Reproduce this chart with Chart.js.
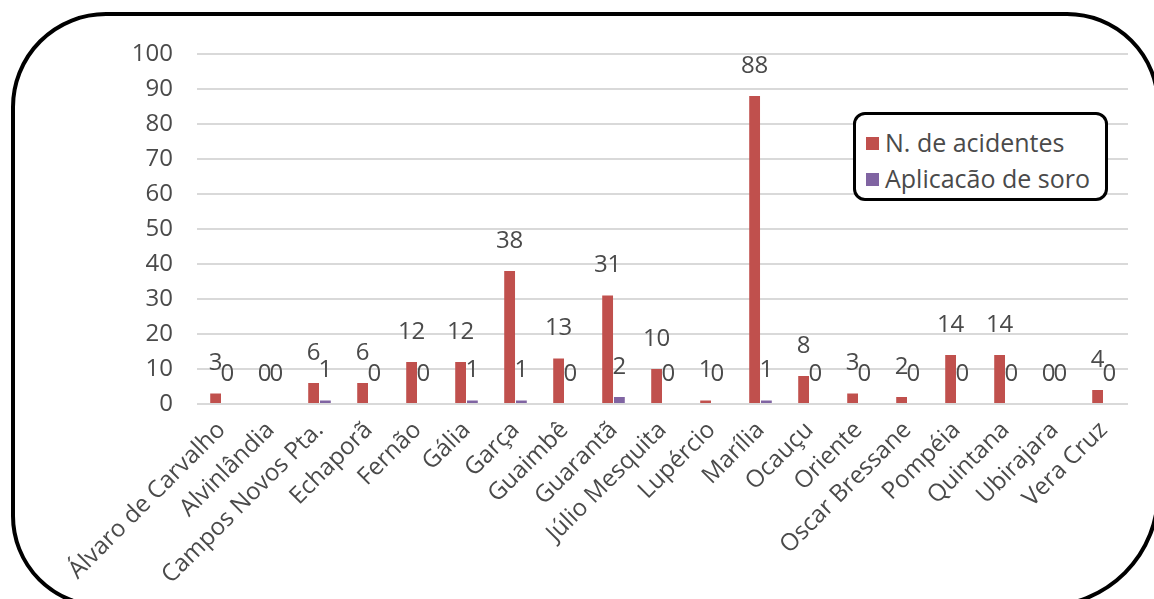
<!DOCTYPE html>
<html><head><meta charset="utf-8">
<script src="https://cdn.jsdelivr.net/npm/chart.js@4"></script>
<style>
html,body{margin:0;padding:0;background:#fff;width:1154px;height:599px;overflow:hidden;font-family:"Open Sans",sans-serif;}
#wrap{position:relative;width:1154px;height:599px;overflow:hidden;}
#frame{position:absolute;left:11px;top:12px;width:1141px;height:588px;border:4px solid #000;border-radius:95px 93px 115px 92px;}
#c{position:absolute;left:0;top:0;}
#legend{position:absolute;left:853px;top:112px;width:249px;height:83px;border:3px solid #000;border-radius:12px;background:#fff;font-size:25px;color:#4a4a4a;overflow:hidden;}
#legend div{position:absolute;left:10px;white-space:nowrap;line-height:30px;}
#legend span.sw{display:inline-block;width:13px;height:13px;margin-right:6px;vertical-align:middle;position:relative;top:-2px;}
</style></head>
<body><div id="wrap"><div id="frame"></div><canvas id="c" width="1154" height="599"></canvas><div id="legend"></div></div>
<script>
const categories = ["Álvaro de Carvalho","Alvinlândia","Campos Novos Pta.","Echaporã","Fernão","Gália","Garça","Guaimbê","Guarantã","Júlio Mesquita","Lupércio","Marília","Ocauçu","Oriente","Oscar Bressane","Pompéia","Quintana","Ubirajara","Vera Cruz"];
const acidentes = [3,0,6,6,12,12,38,13,31,10,1,88,8,3,2,14,14,0,4];
const soro = [0,0,1,0,0,1,1,0,2,0,0,1,0,0,0,0,0,0,0];
const seriesNames = ["N. de acidentes","Aplicacão de soro"];
const seriesColors = ["#C0504D","#8064A2"];
const yTicks = [0,10,20,30,40,50,60,70,80,90,100];

const labelPlugin = {
  id:'vals',
  afterDatasetsDraw(chart){
    const ctx = chart.ctx;
    ctx.save();
    ctx.font = '24px "Open Sans"';
    ctx.fillStyle = '#4a4a4a';
    ctx.textAlign = 'center';
    ctx.textBaseline = 'middle';
    chart.data.datasets.forEach((ds,i)=>{
      chart.getDatasetMeta(i).data.forEach((bar,j)=>{
        ctx.fillText(String(ds.data[j]), bar.x, bar.y - 30);
      });
    });
    ctx.restore();
  }
};

new Chart(document.getElementById('c'),{
  type:'bar',
  data:{labels:categories,datasets:[
    {label:seriesNames[0],data:acidentes,backgroundColor:seriesColors[0]},
    {label:seriesNames[1],data:soro,backgroundColor:seriesColors[1]}
  ]},
  options:{
    responsive:false,animation:false,
    layout:{padding:{left:0,top:54,right:26,bottom:0}},
    plugins:{legend:{display:false},tooltip:{enabled:false}},
    datasets:{bar:{categoryPercentage:0.48,barPercentage:0.92}},
    scales:{
      x:{grid:{display:false},border:{display:false},
         ticks:{minRotation:45,maxRotation:45,autoSkip:false,color:'#4a4a4a',font:{family:'Open Sans',size:24},padding:4},
         afterFit(s){s.height=195;}},
      y:{min:0,max:100,
         afterBuildTicks(s){s.ticks=yTicks.map(v=>({value:v}));},
         grid:{color:'#d9d9d9',lineWidth:2,drawTicks:false},border:{display:false},
         ticks:{color:'#4a4a4a',font:{family:'Open Sans',size:24},padding:24},
         afterFit(s){s.width=197;}}
    }
  },
  plugins:[labelPlugin]
});

const lg = document.getElementById('legend');
seriesNames.forEach((n,i)=>{
  const d=document.createElement('div');
  d.style.top=(12+i*36)+'px';
  d.innerHTML='<span class="sw" style="background:'+seriesColors[i]+'"></span>'+n;
  lg.appendChild(d);
});
</script></body></html>
